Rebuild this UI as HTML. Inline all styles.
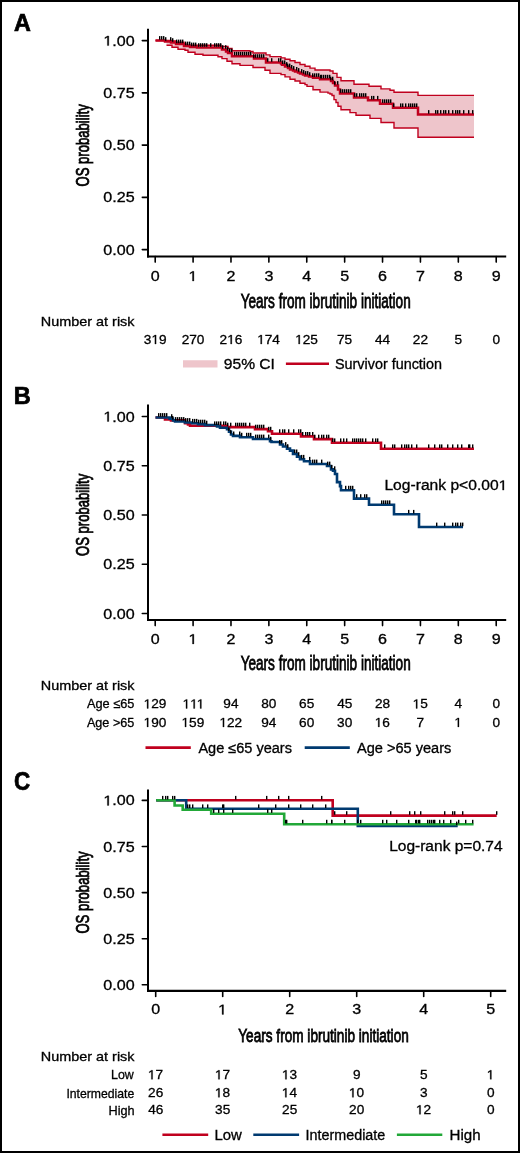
<!DOCTYPE html>
<html><head><meta charset="utf-8"><style>
html,body{margin:0;padding:0;background:#fff;}
svg{display:block;will-change:transform;}
text{font-family:"Liberation Sans",sans-serif;stroke:#000;stroke-width:0.3px;}
</style></head><body>
<svg width="520" height="1153" viewBox="0 0 520 1153">
<rect x="0" y="0" width="520" height="1153" fill="#fff"/>
<text x="13.92" y="30.55" font-size="23.26" font-weight="bold" fill="#000" textLength="16.87" lengthAdjust="spacingAndGlyphs" style="stroke-width:0.7px">A</text>
<line x1="148" y1="28.7" x2="148" y2="257.5" stroke="#000" stroke-width="2" stroke-linecap="butt"/>
<line x1="147" y1="256.5" x2="506.2" y2="256.5" stroke="#000" stroke-width="2.2" stroke-linecap="butt"/>
<line x1="142.3" y1="40.6" x2="148" y2="40.6" stroke="#000" stroke-width="1.6" stroke-linecap="round"/>
<line x1="142.3" y1="92.85" x2="148" y2="92.85" stroke="#000" stroke-width="1.6" stroke-linecap="round"/>
<line x1="142.3" y1="145.1" x2="148" y2="145.1" stroke="#000" stroke-width="1.6" stroke-linecap="round"/>
<line x1="142.3" y1="197.35" x2="148" y2="197.35" stroke="#000" stroke-width="1.6" stroke-linecap="round"/>
<line x1="142.3" y1="249.6" x2="148" y2="249.6" stroke="#000" stroke-width="1.6" stroke-linecap="round"/>
<line x1="155.2" y1="256.5" x2="155.2" y2="262.1" stroke="#000" stroke-width="1.6" stroke-linecap="round"/>
<line x1="193.08999999999997" y1="256.5" x2="193.08999999999997" y2="262.1" stroke="#000" stroke-width="1.6" stroke-linecap="round"/>
<line x1="230.98" y1="256.5" x2="230.98" y2="262.1" stroke="#000" stroke-width="1.6" stroke-linecap="round"/>
<line x1="268.87" y1="256.5" x2="268.87" y2="262.1" stroke="#000" stroke-width="1.6" stroke-linecap="round"/>
<line x1="306.76" y1="256.5" x2="306.76" y2="262.1" stroke="#000" stroke-width="1.6" stroke-linecap="round"/>
<line x1="344.65" y1="256.5" x2="344.65" y2="262.1" stroke="#000" stroke-width="1.6" stroke-linecap="round"/>
<line x1="382.53999999999996" y1="256.5" x2="382.53999999999996" y2="262.1" stroke="#000" stroke-width="1.6" stroke-linecap="round"/>
<line x1="420.43" y1="256.5" x2="420.43" y2="262.1" stroke="#000" stroke-width="1.6" stroke-linecap="round"/>
<line x1="458.32" y1="256.5" x2="458.32" y2="262.1" stroke="#000" stroke-width="1.6" stroke-linecap="round"/>
<line x1="496.21" y1="256.5" x2="496.21" y2="262.1" stroke="#000" stroke-width="1.6" stroke-linecap="round"/>
<path d="M515 0V1237L197 1010V1180L530 1409H696V0Z" transform="translate(103.33,45.60) scale(0.00786,-0.00684)" fill="#000" stroke="#000" stroke-width="0.3" vector-effect="non-scaling-stroke"/>
<text x="103.33" y="45.60" font-size="14.00" font-weight="normal" fill="#000" textLength="31.34" lengthAdjust="spacingAndGlyphs" > .00</text>
<text x="103.33" y="97.85" font-size="14.00" font-weight="normal" fill="#000" textLength="31.34" lengthAdjust="spacingAndGlyphs" >0.75</text>
<text x="103.33" y="150.10" font-size="14.00" font-weight="normal" fill="#000" textLength="31.34" lengthAdjust="spacingAndGlyphs" >0.50</text>
<text x="103.33" y="202.35" font-size="14.00" font-weight="normal" fill="#000" textLength="31.34" lengthAdjust="spacingAndGlyphs" >0.25</text>
<text x="103.33" y="254.60" font-size="14.00" font-weight="normal" fill="#000" textLength="31.34" lengthAdjust="spacingAndGlyphs" >0.00</text>
<text x="150.73" y="281.00" font-size="14.00" font-weight="normal" fill="#000" textLength="8.95" lengthAdjust="spacingAndGlyphs" >0</text>
<path d="M515 0V1237L197 1010V1180L530 1409H696V0Z" transform="translate(188.42,281.00) scale(0.00786,-0.00684)" fill="#000" stroke="#000" stroke-width="0.3" vector-effect="non-scaling-stroke"/>
<text x="188.42" y="281.00" font-size="14.00" font-weight="normal" fill="#000" textLength="8.95" lengthAdjust="spacingAndGlyphs" > </text>
<text x="226.51" y="281.00" font-size="14.00" font-weight="normal" fill="#000" textLength="8.95" lengthAdjust="spacingAndGlyphs" >2</text>
<text x="264.44" y="281.00" font-size="14.00" font-weight="normal" fill="#000" textLength="8.95" lengthAdjust="spacingAndGlyphs" >3</text>
<text x="302.33" y="281.00" font-size="14.00" font-weight="normal" fill="#000" textLength="8.95" lengthAdjust="spacingAndGlyphs" >4</text>
<text x="340.18" y="281.00" font-size="14.00" font-weight="normal" fill="#000" textLength="8.95" lengthAdjust="spacingAndGlyphs" >5</text>
<text x="378.03" y="281.00" font-size="14.00" font-weight="normal" fill="#000" textLength="8.95" lengthAdjust="spacingAndGlyphs" >6</text>
<text x="415.96" y="281.00" font-size="14.00" font-weight="normal" fill="#000" textLength="8.95" lengthAdjust="spacingAndGlyphs" >7</text>
<text x="453.81" y="281.00" font-size="14.00" font-weight="normal" fill="#000" textLength="8.95" lengthAdjust="spacingAndGlyphs" >8</text>
<text x="491.74" y="281.00" font-size="14.00" font-weight="normal" fill="#000" textLength="8.95" lengthAdjust="spacingAndGlyphs" >9</text>
<text x="240.66" y="308.30" font-size="19.45" font-weight="normal" fill="#000" textLength="170.03" lengthAdjust="spacingAndGlyphs" style="stroke-width:0.8px">Years from ibrutinib initiation</text>
<text x="-0.59" y="0.00" font-size="19.17" font-weight="normal" fill="#000" textLength="82.27" lengthAdjust="spacingAndGlyphs" style="stroke-width:0.8px" transform="translate(89,185.9) rotate(-90)">OS probability</text>
<text x="40.85" y="325.75" font-size="13.10" font-weight="normal" fill="#000" textLength="93.68" lengthAdjust="spacingAndGlyphs" >Number at risk</text>
<path d="M515 0V1237L197 1010V1180L530 1409H696V0Z" transform="translate(151.46,344.00) scale(0.00667,-0.00635)" fill="#000" stroke="#000" stroke-width="0.3" vector-effect="non-scaling-stroke"/>
<text x="143.87" y="344.00" font-size="13.00" font-weight="normal" fill="#000" textLength="22.78" lengthAdjust="spacingAndGlyphs" >3 9</text>
<text x="181.66" y="344.00" font-size="13.00" font-weight="normal" fill="#000" textLength="22.78" lengthAdjust="spacingAndGlyphs" >270</text>
<path d="M515 0V1237L197 1010V1180L530 1409H696V0Z" transform="translate(227.17,344.00) scale(0.00667,-0.00635)" fill="#000" stroke="#000" stroke-width="0.3" vector-effect="non-scaling-stroke"/>
<text x="219.58" y="344.00" font-size="13.00" font-weight="normal" fill="#000" textLength="22.78" lengthAdjust="spacingAndGlyphs" >2 6</text>
<path d="M515 0V1237L197 1010V1180L530 1409H696V0Z" transform="translate(257.20,344.00) scale(0.00667,-0.00635)" fill="#000" stroke="#000" stroke-width="0.3" vector-effect="non-scaling-stroke"/>
<text x="257.20" y="344.00" font-size="13.00" font-weight="normal" fill="#000" textLength="22.78" lengthAdjust="spacingAndGlyphs" > 74</text>
<path d="M515 0V1237L197 1010V1180L530 1409H696V0Z" transform="translate(295.16,344.00) scale(0.00667,-0.00635)" fill="#000" stroke="#000" stroke-width="0.3" vector-effect="non-scaling-stroke"/>
<text x="295.16" y="344.00" font-size="13.00" font-weight="normal" fill="#000" textLength="22.78" lengthAdjust="spacingAndGlyphs" > 25</text>
<text x="337.01" y="344.00" font-size="13.00" font-weight="normal" fill="#000" textLength="15.18" lengthAdjust="spacingAndGlyphs" >75</text>
<text x="375.00" y="344.00" font-size="13.00" font-weight="normal" fill="#000" textLength="15.18" lengthAdjust="spacingAndGlyphs" >44</text>
<text x="412.85" y="344.00" font-size="13.00" font-weight="normal" fill="#000" textLength="15.18" lengthAdjust="spacingAndGlyphs" >22</text>
<text x="454.53" y="344.00" font-size="13.00" font-weight="normal" fill="#000" textLength="7.59" lengthAdjust="spacingAndGlyphs" >5</text>
<text x="492.42" y="344.00" font-size="13.00" font-weight="normal" fill="#000" textLength="7.59" lengthAdjust="spacingAndGlyphs" >0</text>
<rect x="183" y="360.25" width="34.5" height="7.25" fill="#eec5cb"/>
<text x="223.80" y="368.50" font-size="14.00" font-weight="normal" fill="#000" textLength="51.17" lengthAdjust="spacingAndGlyphs" >95% CI</text>
<line x1="285.9" y1="363.7" x2="329" y2="363.7" stroke="#c0001e" stroke-width="2.6" stroke-linecap="butt"/>
<text x="334.95" y="368.50" font-size="14.00" font-weight="normal" fill="#000" textLength="107.12" lengthAdjust="spacingAndGlyphs" >Survivor function</text>
<text x="13.72" y="404.25" font-size="23.48" font-weight="bold" fill="#000" textLength="17.05" lengthAdjust="spacingAndGlyphs" style="stroke-width:0.7px">B</text>
<line x1="148" y1="404.6" x2="148" y2="621" stroke="#000" stroke-width="2" stroke-linecap="butt"/>
<line x1="147" y1="620" x2="506.2" y2="620" stroke="#000" stroke-width="2.2" stroke-linecap="butt"/>
<line x1="142.3" y1="416.5" x2="148" y2="416.5" stroke="#000" stroke-width="1.6" stroke-linecap="round"/>
<line x1="142.3" y1="465.75" x2="148" y2="465.75" stroke="#000" stroke-width="1.6" stroke-linecap="round"/>
<line x1="142.3" y1="515.0" x2="148" y2="515.0" stroke="#000" stroke-width="1.6" stroke-linecap="round"/>
<line x1="142.3" y1="564.25" x2="148" y2="564.25" stroke="#000" stroke-width="1.6" stroke-linecap="round"/>
<line x1="142.3" y1="613.5" x2="148" y2="613.5" stroke="#000" stroke-width="1.6" stroke-linecap="round"/>
<line x1="155.2" y1="620" x2="155.2" y2="625.6" stroke="#000" stroke-width="1.6" stroke-linecap="round"/>
<line x1="193.08999999999997" y1="620" x2="193.08999999999997" y2="625.6" stroke="#000" stroke-width="1.6" stroke-linecap="round"/>
<line x1="230.98" y1="620" x2="230.98" y2="625.6" stroke="#000" stroke-width="1.6" stroke-linecap="round"/>
<line x1="268.87" y1="620" x2="268.87" y2="625.6" stroke="#000" stroke-width="1.6" stroke-linecap="round"/>
<line x1="306.76" y1="620" x2="306.76" y2="625.6" stroke="#000" stroke-width="1.6" stroke-linecap="round"/>
<line x1="344.65" y1="620" x2="344.65" y2="625.6" stroke="#000" stroke-width="1.6" stroke-linecap="round"/>
<line x1="382.53999999999996" y1="620" x2="382.53999999999996" y2="625.6" stroke="#000" stroke-width="1.6" stroke-linecap="round"/>
<line x1="420.43" y1="620" x2="420.43" y2="625.6" stroke="#000" stroke-width="1.6" stroke-linecap="round"/>
<line x1="458.32" y1="620" x2="458.32" y2="625.6" stroke="#000" stroke-width="1.6" stroke-linecap="round"/>
<line x1="496.21" y1="620" x2="496.21" y2="625.6" stroke="#000" stroke-width="1.6" stroke-linecap="round"/>
<path d="M515 0V1237L197 1010V1180L530 1409H696V0Z" transform="translate(103.33,421.50) scale(0.00786,-0.00684)" fill="#000" stroke="#000" stroke-width="0.3" vector-effect="non-scaling-stroke"/>
<text x="103.33" y="421.50" font-size="14.00" font-weight="normal" fill="#000" textLength="31.34" lengthAdjust="spacingAndGlyphs" > .00</text>
<text x="103.33" y="470.75" font-size="14.00" font-weight="normal" fill="#000" textLength="31.34" lengthAdjust="spacingAndGlyphs" >0.75</text>
<text x="103.33" y="520.00" font-size="14.00" font-weight="normal" fill="#000" textLength="31.34" lengthAdjust="spacingAndGlyphs" >0.50</text>
<text x="103.33" y="569.25" font-size="14.00" font-weight="normal" fill="#000" textLength="31.34" lengthAdjust="spacingAndGlyphs" >0.25</text>
<text x="103.33" y="618.50" font-size="14.00" font-weight="normal" fill="#000" textLength="31.34" lengthAdjust="spacingAndGlyphs" >0.00</text>
<text x="150.73" y="643.90" font-size="14.00" font-weight="normal" fill="#000" textLength="8.95" lengthAdjust="spacingAndGlyphs" >0</text>
<path d="M515 0V1237L197 1010V1180L530 1409H696V0Z" transform="translate(188.42,643.90) scale(0.00786,-0.00684)" fill="#000" stroke="#000" stroke-width="0.3" vector-effect="non-scaling-stroke"/>
<text x="188.42" y="643.90" font-size="14.00" font-weight="normal" fill="#000" textLength="8.95" lengthAdjust="spacingAndGlyphs" > </text>
<text x="226.51" y="643.90" font-size="14.00" font-weight="normal" fill="#000" textLength="8.95" lengthAdjust="spacingAndGlyphs" >2</text>
<text x="264.44" y="643.90" font-size="14.00" font-weight="normal" fill="#000" textLength="8.95" lengthAdjust="spacingAndGlyphs" >3</text>
<text x="302.33" y="643.90" font-size="14.00" font-weight="normal" fill="#000" textLength="8.95" lengthAdjust="spacingAndGlyphs" >4</text>
<text x="340.18" y="643.90" font-size="14.00" font-weight="normal" fill="#000" textLength="8.95" lengthAdjust="spacingAndGlyphs" >5</text>
<text x="378.03" y="643.90" font-size="14.00" font-weight="normal" fill="#000" textLength="8.95" lengthAdjust="spacingAndGlyphs" >6</text>
<text x="415.96" y="643.90" font-size="14.00" font-weight="normal" fill="#000" textLength="8.95" lengthAdjust="spacingAndGlyphs" >7</text>
<text x="453.81" y="643.90" font-size="14.00" font-weight="normal" fill="#000" textLength="8.95" lengthAdjust="spacingAndGlyphs" >8</text>
<text x="491.74" y="643.90" font-size="14.00" font-weight="normal" fill="#000" textLength="8.95" lengthAdjust="spacingAndGlyphs" >9</text>
<text x="240.66" y="670.30" font-size="19.45" font-weight="normal" fill="#000" textLength="170.03" lengthAdjust="spacingAndGlyphs" style="stroke-width:0.8px">Years from ibrutinib initiation</text>
<text x="-0.59" y="0.00" font-size="19.17" font-weight="normal" fill="#000" textLength="82.27" lengthAdjust="spacingAndGlyphs" style="stroke-width:0.8px" transform="translate(89,555.4) rotate(-90)">OS probability</text>
<text x="40.85" y="689.50" font-size="13.10" font-weight="normal" fill="#000" textLength="93.68" lengthAdjust="spacingAndGlyphs" >Number at risk</text>
<text x="86.94" y="708.30" font-size="13.00" font-weight="normal" fill="#000" textLength="47.37" lengthAdjust="spacingAndGlyphs" >Age ≤65</text>
<text x="86.94" y="726.90" font-size="13.00" font-weight="normal" fill="#000" textLength="47.36" lengthAdjust="spacingAndGlyphs" >Age &gt;65</text>
<path d="M515 0V1237L197 1010V1180L530 1409H696V0Z" transform="translate(143.63,708.40) scale(0.00667,-0.00635)" fill="#000" stroke="#000" stroke-width="0.3" vector-effect="non-scaling-stroke"/>
<text x="143.63" y="708.40" font-size="13.00" font-weight="normal" fill="#000" textLength="22.78" lengthAdjust="spacingAndGlyphs" > 29</text>
<path d="M515 0V1237L197 1010V1180L530 1409H696V0Z" transform="translate(182.55,708.40) scale(0.00667,-0.00635)" fill="#000" stroke="#000" stroke-width="0.3" vector-effect="non-scaling-stroke"/>
<path d="M515 0V1237L197 1010V1180L530 1409H696V0Z" transform="translate(190.14,708.40) scale(0.00667,-0.00635)" fill="#000" stroke="#000" stroke-width="0.3" vector-effect="non-scaling-stroke"/>
<path d="M515 0V1237L197 1010V1180L530 1409H696V0Z" transform="translate(196.72,708.40) scale(0.00667,-0.00635)" fill="#000" stroke="#000" stroke-width="0.3" vector-effect="non-scaling-stroke"/>
<text x="182.55" y="708.40" font-size="13.00" font-weight="normal" fill="#000" textLength="20.75" lengthAdjust="spacingAndGlyphs" >   </text>
<text x="223.30" y="708.40" font-size="13.00" font-weight="normal" fill="#000" textLength="15.18" lengthAdjust="spacingAndGlyphs" >94</text>
<text x="261.26" y="708.40" font-size="13.00" font-weight="normal" fill="#000" textLength="15.18" lengthAdjust="spacingAndGlyphs" >80</text>
<text x="299.12" y="708.40" font-size="13.00" font-weight="normal" fill="#000" textLength="15.18" lengthAdjust="spacingAndGlyphs" >65</text>
<text x="337.18" y="708.40" font-size="13.00" font-weight="normal" fill="#000" textLength="15.18" lengthAdjust="spacingAndGlyphs" >45</text>
<text x="374.90" y="708.40" font-size="13.00" font-weight="normal" fill="#000" textLength="15.18" lengthAdjust="spacingAndGlyphs" >28</text>
<path d="M515 0V1237L197 1010V1180L530 1409H696V0Z" transform="translate(412.62,708.40) scale(0.00667,-0.00635)" fill="#000" stroke="#000" stroke-width="0.3" vector-effect="non-scaling-stroke"/>
<text x="412.62" y="708.40" font-size="13.00" font-weight="normal" fill="#000" textLength="15.18" lengthAdjust="spacingAndGlyphs" > 5</text>
<text x="454.57" y="708.40" font-size="13.00" font-weight="normal" fill="#000" textLength="7.59" lengthAdjust="spacingAndGlyphs" >4</text>
<text x="492.42" y="708.40" font-size="13.00" font-weight="normal" fill="#000" textLength="7.59" lengthAdjust="spacingAndGlyphs" >0</text>
<path d="M515 0V1237L197 1010V1180L530 1409H696V0Z" transform="translate(143.60,726.90) scale(0.00667,-0.00635)" fill="#000" stroke="#000" stroke-width="0.3" vector-effect="non-scaling-stroke"/>
<text x="143.60" y="726.90" font-size="13.00" font-weight="normal" fill="#000" textLength="22.78" lengthAdjust="spacingAndGlyphs" > 90</text>
<path d="M515 0V1237L197 1010V1180L530 1409H696V0Z" transform="translate(181.52,726.90) scale(0.00667,-0.00635)" fill="#000" stroke="#000" stroke-width="0.3" vector-effect="non-scaling-stroke"/>
<text x="181.52" y="726.90" font-size="13.00" font-weight="normal" fill="#000" textLength="22.78" lengthAdjust="spacingAndGlyphs" > 59</text>
<path d="M515 0V1237L197 1010V1180L530 1409H696V0Z" transform="translate(219.45,726.90) scale(0.00667,-0.00635)" fill="#000" stroke="#000" stroke-width="0.3" vector-effect="non-scaling-stroke"/>
<text x="219.45" y="726.90" font-size="13.00" font-weight="normal" fill="#000" textLength="22.78" lengthAdjust="spacingAndGlyphs" > 22</text>
<text x="261.19" y="726.90" font-size="13.00" font-weight="normal" fill="#000" textLength="15.18" lengthAdjust="spacingAndGlyphs" >94</text>
<text x="299.12" y="726.90" font-size="13.00" font-weight="normal" fill="#000" textLength="15.18" lengthAdjust="spacingAndGlyphs" >60</text>
<text x="337.07" y="726.90" font-size="13.00" font-weight="normal" fill="#000" textLength="15.18" lengthAdjust="spacingAndGlyphs" >30</text>
<path d="M515 0V1237L197 1010V1180L530 1409H696V0Z" transform="translate(374.76,726.90) scale(0.00667,-0.00635)" fill="#000" stroke="#000" stroke-width="0.3" vector-effect="non-scaling-stroke"/>
<text x="374.76" y="726.90" font-size="13.00" font-weight="normal" fill="#000" textLength="15.18" lengthAdjust="spacingAndGlyphs" > 6</text>
<text x="416.64" y="726.90" font-size="13.00" font-weight="normal" fill="#000" textLength="7.59" lengthAdjust="spacingAndGlyphs" >7</text>
<path d="M515 0V1237L197 1010V1180L530 1409H696V0Z" transform="translate(454.36,726.90) scale(0.00667,-0.00635)" fill="#000" stroke="#000" stroke-width="0.3" vector-effect="non-scaling-stroke"/>
<text x="454.36" y="726.90" font-size="13.00" font-weight="normal" fill="#000" textLength="7.59" lengthAdjust="spacingAndGlyphs" > </text>
<text x="492.42" y="726.90" font-size="13.00" font-weight="normal" fill="#000" textLength="7.59" lengthAdjust="spacingAndGlyphs" >0</text>
<line x1="145.5" y1="747.6" x2="190.8" y2="747.6" stroke="#c0001e" stroke-width="2.6" stroke-linecap="butt"/>
<text x="198.43" y="752.80" font-size="14.00" font-weight="normal" fill="#000" textLength="93.50" lengthAdjust="spacingAndGlyphs" >Age ≤65 years</text>
<line x1="304.7" y1="747.6" x2="349.8" y2="747.6" stroke="#003a70" stroke-width="2.6" stroke-linecap="butt"/>
<text x="356.93" y="752.80" font-size="14.00" font-weight="normal" fill="#000" textLength="94.41" lengthAdjust="spacingAndGlyphs" >Age &gt;65 years</text>
<path d="M515 0V1237L197 1010V1180L530 1409H696V0Z" transform="translate(498.63,490.10) scale(0.00763,-0.00684)" fill="#000" stroke="#000" stroke-width="0.3" vector-effect="non-scaling-stroke"/>
<text x="384.45" y="490.10" font-size="14.00" font-weight="normal" fill="#000" textLength="122.87" lengthAdjust="spacingAndGlyphs" >Log-rank p&lt;0.00 </text>
<text x="14.05" y="790.05" font-size="25.43" font-weight="bold" fill="#000" textLength="16.21" lengthAdjust="spacingAndGlyphs" style="stroke-width:0.7px">C</text>
<line x1="148" y1="789.4" x2="148" y2="991.8" stroke="#000" stroke-width="2" stroke-linecap="butt"/>
<line x1="147" y1="990.8" x2="506.2" y2="990.8" stroke="#000" stroke-width="2.2" stroke-linecap="butt"/>
<line x1="142.3" y1="800.4" x2="148" y2="800.4" stroke="#000" stroke-width="1.6" stroke-linecap="round"/>
<line x1="142.3" y1="846.5" x2="148" y2="846.5" stroke="#000" stroke-width="1.6" stroke-linecap="round"/>
<line x1="142.3" y1="892.6" x2="148" y2="892.6" stroke="#000" stroke-width="1.6" stroke-linecap="round"/>
<line x1="142.3" y1="938.7" x2="148" y2="938.7" stroke="#000" stroke-width="1.6" stroke-linecap="round"/>
<line x1="142.3" y1="984.8" x2="148" y2="984.8" stroke="#000" stroke-width="1.6" stroke-linecap="round"/>
<line x1="155.7" y1="990.8" x2="155.7" y2="996.4" stroke="#000" stroke-width="1.6" stroke-linecap="round"/>
<line x1="222.7" y1="990.8" x2="222.7" y2="996.4" stroke="#000" stroke-width="1.6" stroke-linecap="round"/>
<line x1="289.7" y1="990.8" x2="289.7" y2="996.4" stroke="#000" stroke-width="1.6" stroke-linecap="round"/>
<line x1="356.7" y1="990.8" x2="356.7" y2="996.4" stroke="#000" stroke-width="1.6" stroke-linecap="round"/>
<line x1="423.7" y1="990.8" x2="423.7" y2="996.4" stroke="#000" stroke-width="1.6" stroke-linecap="round"/>
<line x1="490.7" y1="990.8" x2="490.7" y2="996.4" stroke="#000" stroke-width="1.6" stroke-linecap="round"/>
<path d="M515 0V1237L197 1010V1180L530 1409H696V0Z" transform="translate(103.33,805.40) scale(0.00786,-0.00684)" fill="#000" stroke="#000" stroke-width="0.3" vector-effect="non-scaling-stroke"/>
<text x="103.33" y="805.40" font-size="14.00" font-weight="normal" fill="#000" textLength="31.34" lengthAdjust="spacingAndGlyphs" > .00</text>
<text x="103.33" y="851.50" font-size="14.00" font-weight="normal" fill="#000" textLength="31.34" lengthAdjust="spacingAndGlyphs" >0.75</text>
<text x="103.33" y="897.60" font-size="14.00" font-weight="normal" fill="#000" textLength="31.34" lengthAdjust="spacingAndGlyphs" >0.50</text>
<text x="103.33" y="943.70" font-size="14.00" font-weight="normal" fill="#000" textLength="31.34" lengthAdjust="spacingAndGlyphs" >0.25</text>
<text x="103.33" y="989.80" font-size="14.00" font-weight="normal" fill="#000" textLength="31.34" lengthAdjust="spacingAndGlyphs" >0.00</text>
<text x="151.23" y="1014.40" font-size="14.00" font-weight="normal" fill="#000" textLength="8.95" lengthAdjust="spacingAndGlyphs" >0</text>
<path d="M515 0V1237L197 1010V1180L530 1409H696V0Z" transform="translate(218.03,1014.40) scale(0.00786,-0.00684)" fill="#000" stroke="#000" stroke-width="0.3" vector-effect="non-scaling-stroke"/>
<text x="218.03" y="1014.40" font-size="14.00" font-weight="normal" fill="#000" textLength="8.95" lengthAdjust="spacingAndGlyphs" > </text>
<text x="285.23" y="1014.40" font-size="14.00" font-weight="normal" fill="#000" textLength="8.95" lengthAdjust="spacingAndGlyphs" >2</text>
<text x="352.27" y="1014.40" font-size="14.00" font-weight="normal" fill="#000" textLength="8.95" lengthAdjust="spacingAndGlyphs" >3</text>
<text x="419.27" y="1014.40" font-size="14.00" font-weight="normal" fill="#000" textLength="8.95" lengthAdjust="spacingAndGlyphs" >4</text>
<text x="486.23" y="1014.40" font-size="14.00" font-weight="normal" fill="#000" textLength="8.95" lengthAdjust="spacingAndGlyphs" >5</text>
<text x="238.26" y="1041.70" font-size="18.62" font-weight="normal" fill="#000" textLength="170.53" lengthAdjust="spacingAndGlyphs" style="stroke-width:0.8px">Years from ibrutinib initiation</text>
<text x="-0.59" y="0.00" font-size="19.17" font-weight="normal" fill="#000" textLength="82.17" lengthAdjust="spacingAndGlyphs" style="stroke-width:0.8px" transform="translate(89,933) rotate(-90)">OS probability</text>
<text x="40.85" y="1060.50" font-size="12.76" font-weight="normal" fill="#000" textLength="93.68" lengthAdjust="spacingAndGlyphs" >Number at risk</text>
<text x="111.01" y="1079.30" font-size="13.00" font-weight="normal" fill="#000" textLength="22.74" lengthAdjust="spacingAndGlyphs" >Low</text>
<text x="66.40" y="1097.50" font-size="13.00" font-weight="normal" fill="#000" textLength="67.88" lengthAdjust="spacingAndGlyphs" >Intermediate</text>
<text x="108.48" y="1114.60" font-size="13.00" font-weight="normal" fill="#000" textLength="26.11" lengthAdjust="spacingAndGlyphs" >High</text>
<path d="M515 0V1237L197 1010V1180L530 1409H696V0Z" transform="translate(147.95,1079.30) scale(0.00667,-0.00635)" fill="#000" stroke="#000" stroke-width="0.3" vector-effect="non-scaling-stroke"/>
<text x="147.95" y="1079.30" font-size="13.00" font-weight="normal" fill="#000" textLength="15.18" lengthAdjust="spacingAndGlyphs" > 7</text>
<path d="M515 0V1237L197 1010V1180L530 1409H696V0Z" transform="translate(214.95,1079.30) scale(0.00667,-0.00635)" fill="#000" stroke="#000" stroke-width="0.3" vector-effect="non-scaling-stroke"/>
<text x="214.95" y="1079.30" font-size="13.00" font-weight="normal" fill="#000" textLength="15.18" lengthAdjust="spacingAndGlyphs" > 7</text>
<path d="M515 0V1237L197 1010V1180L530 1409H696V0Z" transform="translate(281.92,1079.30) scale(0.00667,-0.00635)" fill="#000" stroke="#000" stroke-width="0.3" vector-effect="non-scaling-stroke"/>
<text x="281.92" y="1079.30" font-size="13.00" font-weight="normal" fill="#000" textLength="15.18" lengthAdjust="spacingAndGlyphs" > 3</text>
<text x="352.91" y="1079.30" font-size="13.00" font-weight="normal" fill="#000" textLength="7.59" lengthAdjust="spacingAndGlyphs" >9</text>
<text x="419.91" y="1079.30" font-size="13.00" font-weight="normal" fill="#000" textLength="7.59" lengthAdjust="spacingAndGlyphs" >5</text>
<path d="M515 0V1237L197 1010V1180L530 1409H696V0Z" transform="translate(486.74,1079.30) scale(0.00667,-0.00635)" fill="#000" stroke="#000" stroke-width="0.3" vector-effect="non-scaling-stroke"/>
<text x="486.74" y="1079.30" font-size="13.00" font-weight="normal" fill="#000" textLength="7.59" lengthAdjust="spacingAndGlyphs" > </text>
<text x="148.09" y="1097.30" font-size="13.00" font-weight="normal" fill="#000" textLength="15.18" lengthAdjust="spacingAndGlyphs" >26</text>
<path d="M515 0V1237L197 1010V1180L530 1409H696V0Z" transform="translate(214.89,1097.30) scale(0.00667,-0.00635)" fill="#000" stroke="#000" stroke-width="0.3" vector-effect="non-scaling-stroke"/>
<text x="214.89" y="1097.30" font-size="13.00" font-weight="normal" fill="#000" textLength="15.18" lengthAdjust="spacingAndGlyphs" > 8</text>
<path d="M515 0V1237L197 1010V1180L530 1409H696V0Z" transform="translate(281.82,1097.30) scale(0.00667,-0.00635)" fill="#000" stroke="#000" stroke-width="0.3" vector-effect="non-scaling-stroke"/>
<text x="281.82" y="1097.30" font-size="13.00" font-weight="normal" fill="#000" textLength="15.18" lengthAdjust="spacingAndGlyphs" > 4</text>
<path d="M515 0V1237L197 1010V1180L530 1409H696V0Z" transform="translate(348.89,1097.30) scale(0.00667,-0.00635)" fill="#000" stroke="#000" stroke-width="0.3" vector-effect="non-scaling-stroke"/>
<text x="348.89" y="1097.30" font-size="13.00" font-weight="normal" fill="#000" textLength="15.18" lengthAdjust="spacingAndGlyphs" > 0</text>
<text x="419.95" y="1097.30" font-size="13.00" font-weight="normal" fill="#000" textLength="7.59" lengthAdjust="spacingAndGlyphs" >3</text>
<text x="486.91" y="1097.30" font-size="13.00" font-weight="normal" fill="#000" textLength="7.59" lengthAdjust="spacingAndGlyphs" >0</text>
<text x="148.26" y="1114.30" font-size="13.00" font-weight="normal" fill="#000" textLength="15.18" lengthAdjust="spacingAndGlyphs" >46</text>
<text x="215.12" y="1114.30" font-size="13.00" font-weight="normal" fill="#000" textLength="15.18" lengthAdjust="spacingAndGlyphs" >35</text>
<text x="282.06" y="1114.30" font-size="13.00" font-weight="normal" fill="#000" textLength="15.18" lengthAdjust="spacingAndGlyphs" >25</text>
<text x="349.06" y="1114.30" font-size="13.00" font-weight="normal" fill="#000" textLength="15.18" lengthAdjust="spacingAndGlyphs" >20</text>
<path d="M515 0V1237L197 1010V1180L530 1409H696V0Z" transform="translate(415.95,1114.30) scale(0.00667,-0.00635)" fill="#000" stroke="#000" stroke-width="0.3" vector-effect="non-scaling-stroke"/>
<text x="415.95" y="1114.30" font-size="13.00" font-weight="normal" fill="#000" textLength="15.18" lengthAdjust="spacingAndGlyphs" > 2</text>
<text x="486.91" y="1114.30" font-size="13.00" font-weight="normal" fill="#000" textLength="7.59" lengthAdjust="spacingAndGlyphs" >0</text>
<line x1="162.4" y1="1134.8" x2="208.2" y2="1134.8" stroke="#c0001e" stroke-width="2.6" stroke-linecap="butt"/>
<text x="214.41" y="1139.50" font-size="14.00" font-weight="normal" fill="#000" textLength="27.39" lengthAdjust="spacingAndGlyphs" >Low</text>
<line x1="253.3" y1="1134.8" x2="299.1" y2="1134.8" stroke="#003a70" stroke-width="2.6" stroke-linecap="butt"/>
<text x="305.61" y="1139.50" font-size="14.00" font-weight="normal" fill="#000" textLength="79.62" lengthAdjust="spacingAndGlyphs" >Intermediate</text>
<line x1="396.9" y1="1134.8" x2="442.3" y2="1134.8" stroke="#22a838" stroke-width="2.6" stroke-linecap="butt"/>
<text x="449.59" y="1139.50" font-size="14.00" font-weight="normal" fill="#000" textLength="31.01" lengthAdjust="spacingAndGlyphs" >High</text>
<text x="389.16" y="850.60" font-size="14.00" font-weight="normal" fill="#000" textLength="113.43" lengthAdjust="spacingAndGlyphs" >Log-rank p=0.74</text>
<path d="M166.50,40.50 H171.00 V41.00 H176.00 V42.20 H184.00 V44.00 H186.00 V45.30 H221.00 V46.50 H228.00 V48.50 H232.00 V50.80 H250.00 V51.50 H253.00 V53.00 H266.00 V54.90 H270.00 V56.60 H281.00 V57.90 H285.00 V59.30 H290.00 V60.80 H295.00 V62.50 H300.00 V64.50 H305.00 V66.20 H310.00 V68.10 H315.00 V70.00 H330.00 V71.00 H333.00 V73.40 H337.00 V77.40 H341.00 V80.80 H354.00 V84.20 H369.00 V86.20 H381.00 V88.90 H390.00 V90.20 H394.00 V92.30 H418.00 V95.40 H474.00 V137.30 H418.00 V128.00 H394.00 V122.50 H381.00 V118.40 H370.00 V115.20 H356.00 V112.60 H350.00 V109.70 H341.00 V106.30 H338.00 V102.50 H336.00 V99.60 H334.00 V95.50 H332.00 V94.00 H330.00 V93.10 H328.00 V92.10 H320.00 V89.70 H313.00 V86.40 H307.00 V84.60 H305.00 V83.30 H300.00 V81.00 H295.00 V79.20 H290.00 V76.90 H285.00 V74.60 H281.00 V73.40 H270.00 V70.30 H265.00 V67.50 H253.00 V65.40 H240.00 V63.80 H232.00 V61.20 H227.00 V58.60 H222.00 V56.80 H218.00 V55.30 H203.00 V54.20 H195.00 V52.20 H188.00 V50.30 H185.00 V49.20 H178.00 V47.20 H172.00 V45.30 H166.50 Z" fill="#eec5cb" stroke="none"/>
<path d="M155.50,40.50 H171.00 V41.00 H176.00 V42.20 H184.00 V44.00 H186.00 V45.30 H221.00 V46.50 H228.00 V48.50 H232.00 V50.80 H250.00 V51.50 H253.00 V53.00 H266.00 V54.90 H270.00 V56.60 H281.00 V57.90 H285.00 V59.30 H290.00 V60.80 H295.00 V62.50 H300.00 V64.50 H305.00 V66.20 H310.00 V68.10 H315.00 V70.00 H330.00 V71.00 H333.00 V73.40 H337.00 V77.40 H341.00 V80.80 H354.00 V84.20 H369.00 V86.20 H381.00 V88.90 H390.00 V90.20 H394.00 V92.30 H418.00 V95.40 H474.00" fill="none" stroke="#c0001e" stroke-width="1.4"/>
<path d="M166.50,45.30 H172.00 V47.20 H178.00 V49.20 H185.00 V50.30 H188.00 V52.20 H195.00 V54.20 H203.00 V55.30 H218.00 V56.80 H222.00 V58.60 H227.00 V61.20 H232.00 V63.80 H240.00 V65.40 H253.00 V67.50 H265.00 V70.30 H270.00 V73.40 H281.00 V74.60 H285.00 V76.90 H290.00 V79.20 H295.00 V81.00 H300.00 V83.30 H305.00 V84.60 H307.00 V86.40 H313.00 V89.70 H320.00 V92.10 H328.00 V93.10 H330.00 V94.00 H332.00 V95.50 H334.00 V99.60 H336.00 V102.50 H338.00 V106.30 H341.00 V109.70 H350.00 V112.60 H356.00 V115.20 H370.00 V118.40 H381.00 V122.50 H394.00 V128.00 H418.00 V137.30 H474.00" fill="none" stroke="#c0001e" stroke-width="1.4"/>
<path d="M155.50,40.50 H165.00 V41.60 H171.00 V42.60 H176.00 V44.00 H184.00 V46.00 H190.00 V47.00 H197.00 V47.60 H222.00 V49.60 H226.00 V51.50 H228.00 V53.00 H232.00 V56.20 H254.00 V58.60 H266.00 V62.60 H281.00 V63.60 H282.00 V64.80 H285.00 V66.50 H288.00 V68.00 H290.00 V69.40 H293.00 V70.50 H295.00 V71.40 H298.00 V72.50 H300.00 V73.50 H303.00 V74.50 H305.00 V75.50 H309.00 V76.60 H313.00 V77.70 H320.00 V79.20 H331.00 V81.10 H333.00 V83.00 H335.00 V85.50 H338.00 V89.50 H340.00 V93.60 H354.00 V97.60 H368.00 V100.30 H380.00 V103.70 H393.00 V107.80 H418.00 V114.50 H474.00" fill="none" stroke="#c0001e" stroke-width="2.5"/>
<rect x="159.00" y="36.10" width="1.4" height="3.60" fill="#000"/>
<rect x="161.00" y="36.10" width="1.4" height="3.60" fill="#000"/>
<rect x="163.00" y="36.10" width="1.4" height="3.60" fill="#000"/>
<rect x="165.00" y="37.20" width="1.4" height="3.60" fill="#000"/>
<rect x="170.00" y="37.20" width="1.4" height="3.60" fill="#000"/>
<rect x="172.00" y="38.20" width="1.4" height="3.60" fill="#000"/>
<rect x="176.00" y="39.60" width="1.4" height="3.60" fill="#000"/>
<rect x="178.00" y="39.60" width="1.4" height="3.60" fill="#000"/>
<rect x="180.00" y="39.60" width="1.4" height="3.60" fill="#000"/>
<rect x="182.00" y="39.60" width="1.4" height="3.60" fill="#000"/>
<rect x="185.00" y="41.60" width="1.4" height="3.60" fill="#000"/>
<rect x="187.00" y="41.60" width="1.4" height="3.60" fill="#000"/>
<rect x="189.00" y="41.60" width="1.4" height="3.60" fill="#000"/>
<rect x="191.00" y="42.60" width="1.4" height="3.60" fill="#000"/>
<rect x="193.00" y="42.60" width="1.4" height="3.60" fill="#000"/>
<rect x="195.00" y="42.60" width="1.4" height="3.60" fill="#000"/>
<rect x="198.00" y="43.20" width="1.4" height="3.60" fill="#000"/>
<rect x="200.00" y="43.20" width="1.4" height="3.60" fill="#000"/>
<rect x="202.00" y="43.20" width="1.4" height="3.60" fill="#000"/>
<rect x="204.00" y="43.20" width="1.4" height="3.60" fill="#000"/>
<rect x="206.00" y="43.20" width="1.4" height="3.60" fill="#000"/>
<rect x="210.00" y="43.20" width="1.4" height="3.60" fill="#000"/>
<rect x="214.00" y="43.20" width="1.4" height="3.60" fill="#000"/>
<rect x="216.00" y="43.20" width="1.4" height="3.60" fill="#000"/>
<rect x="218.00" y="43.20" width="1.4" height="3.60" fill="#000"/>
<rect x="220.00" y="43.20" width="1.4" height="3.60" fill="#000"/>
<rect x="222.00" y="45.20" width="1.4" height="3.60" fill="#000"/>
<rect x="225.00" y="45.20" width="1.4" height="3.60" fill="#000"/>
<rect x="227.00" y="47.10" width="1.4" height="3.60" fill="#000"/>
<rect x="229.00" y="48.60" width="1.4" height="3.60" fill="#000"/>
<rect x="231.00" y="48.60" width="1.4" height="3.60" fill="#000"/>
<rect x="234.00" y="51.80" width="1.4" height="3.60" fill="#000"/>
<rect x="236.00" y="51.80" width="1.4" height="3.60" fill="#000"/>
<rect x="238.00" y="51.80" width="1.4" height="3.60" fill="#000"/>
<rect x="240.00" y="51.80" width="1.4" height="3.60" fill="#000"/>
<rect x="242.00" y="51.80" width="1.4" height="3.60" fill="#000"/>
<rect x="244.00" y="51.80" width="1.4" height="3.60" fill="#000"/>
<rect x="246.00" y="51.80" width="1.4" height="3.60" fill="#000"/>
<rect x="248.00" y="51.80" width="1.4" height="3.60" fill="#000"/>
<rect x="250.00" y="51.80" width="1.4" height="3.60" fill="#000"/>
<rect x="253.00" y="54.20" width="1.4" height="3.60" fill="#000"/>
<rect x="255.00" y="54.20" width="1.4" height="3.60" fill="#000"/>
<rect x="257.00" y="54.20" width="1.4" height="3.60" fill="#000"/>
<rect x="259.00" y="54.20" width="1.4" height="3.60" fill="#000"/>
<rect x="261.00" y="54.20" width="1.4" height="3.60" fill="#000"/>
<rect x="263.00" y="54.20" width="1.4" height="3.60" fill="#000"/>
<rect x="267.00" y="58.20" width="1.4" height="3.60" fill="#000"/>
<rect x="271.00" y="58.20" width="1.4" height="3.60" fill="#000"/>
<rect x="278.00" y="58.20" width="1.4" height="3.60" fill="#000"/>
<rect x="280.00" y="58.20" width="1.4" height="3.60" fill="#000"/>
<rect x="282.00" y="60.40" width="1.4" height="3.60" fill="#000"/>
<rect x="284.00" y="60.40" width="1.4" height="3.60" fill="#000"/>
<rect x="286.00" y="62.10" width="1.4" height="3.60" fill="#000"/>
<rect x="287.00" y="63.60" width="1.4" height="3.60" fill="#000"/>
<rect x="289.00" y="63.60" width="1.4" height="3.60" fill="#000"/>
<rect x="291.00" y="65.00" width="1.4" height="3.60" fill="#000"/>
<rect x="293.00" y="66.10" width="1.4" height="3.60" fill="#000"/>
<rect x="296.00" y="67.00" width="1.4" height="3.60" fill="#000"/>
<rect x="298.00" y="68.10" width="1.4" height="3.60" fill="#000"/>
<rect x="301.00" y="69.10" width="1.4" height="3.60" fill="#000"/>
<rect x="303.00" y="70.10" width="1.4" height="3.60" fill="#000"/>
<rect x="305.00" y="71.10" width="1.4" height="3.60" fill="#000"/>
<rect x="307.00" y="71.10" width="1.4" height="3.60" fill="#000"/>
<rect x="309.00" y="72.20" width="1.4" height="3.60" fill="#000"/>
<rect x="312.00" y="73.30" width="1.4" height="3.60" fill="#000"/>
<rect x="314.00" y="73.30" width="1.4" height="3.60" fill="#000"/>
<rect x="316.00" y="73.30" width="1.4" height="3.60" fill="#000"/>
<rect x="318.00" y="73.30" width="1.4" height="3.60" fill="#000"/>
<rect x="320.00" y="74.80" width="1.4" height="3.60" fill="#000"/>
<rect x="321.00" y="74.80" width="1.4" height="3.60" fill="#000"/>
<rect x="323.00" y="74.80" width="1.4" height="3.60" fill="#000"/>
<rect x="325.00" y="74.80" width="1.4" height="3.60" fill="#000"/>
<rect x="327.00" y="74.80" width="1.4" height="3.60" fill="#000"/>
<rect x="329.00" y="74.80" width="1.4" height="3.60" fill="#000"/>
<rect x="330.00" y="76.70" width="1.4" height="3.60" fill="#000"/>
<rect x="332.00" y="76.70" width="1.4" height="3.60" fill="#000"/>
<rect x="334.00" y="81.10" width="1.4" height="3.60" fill="#000"/>
<rect x="337.00" y="81.10" width="1.4" height="3.60" fill="#000"/>
<rect x="340.00" y="89.20" width="1.4" height="3.60" fill="#000"/>
<rect x="342.00" y="89.20" width="1.4" height="3.60" fill="#000"/>
<rect x="344.00" y="89.20" width="1.4" height="3.60" fill="#000"/>
<rect x="346.00" y="89.20" width="1.4" height="3.60" fill="#000"/>
<rect x="348.00" y="89.20" width="1.4" height="3.60" fill="#000"/>
<rect x="350.00" y="89.20" width="1.4" height="3.60" fill="#000"/>
<rect x="354.00" y="93.20" width="1.4" height="3.60" fill="#000"/>
<rect x="356.00" y="93.20" width="1.4" height="3.60" fill="#000"/>
<rect x="359.00" y="93.20" width="1.4" height="3.60" fill="#000"/>
<rect x="361.00" y="93.20" width="1.4" height="3.60" fill="#000"/>
<rect x="363.00" y="93.20" width="1.4" height="3.60" fill="#000"/>
<rect x="365.00" y="93.20" width="1.4" height="3.60" fill="#000"/>
<rect x="371.00" y="95.90" width="1.4" height="3.60" fill="#000"/>
<rect x="373.00" y="95.90" width="1.4" height="3.60" fill="#000"/>
<rect x="377.00" y="95.90" width="1.4" height="3.60" fill="#000"/>
<rect x="382.00" y="99.30" width="1.4" height="3.60" fill="#000"/>
<rect x="384.00" y="99.30" width="1.4" height="3.60" fill="#000"/>
<rect x="386.00" y="99.30" width="1.4" height="3.60" fill="#000"/>
<rect x="388.00" y="99.30" width="1.4" height="3.60" fill="#000"/>
<rect x="390.00" y="99.30" width="1.4" height="3.60" fill="#000"/>
<rect x="393.00" y="103.40" width="1.4" height="3.60" fill="#000"/>
<rect x="400.00" y="103.40" width="1.4" height="3.60" fill="#000"/>
<rect x="402.00" y="103.40" width="1.4" height="3.60" fill="#000"/>
<rect x="405.00" y="103.40" width="1.4" height="3.60" fill="#000"/>
<rect x="408.00" y="103.40" width="1.4" height="3.60" fill="#000"/>
<rect x="410.00" y="103.40" width="1.4" height="3.60" fill="#000"/>
<rect x="412.00" y="103.40" width="1.4" height="3.60" fill="#000"/>
<rect x="414.00" y="103.40" width="1.4" height="3.60" fill="#000"/>
<rect x="416.00" y="103.40" width="1.4" height="3.60" fill="#000"/>
<rect x="428.00" y="110.10" width="1.4" height="3.60" fill="#000"/>
<rect x="435.00" y="110.10" width="1.4" height="3.60" fill="#000"/>
<rect x="437.00" y="110.10" width="1.4" height="3.60" fill="#000"/>
<rect x="440.00" y="110.10" width="1.4" height="3.60" fill="#000"/>
<rect x="443.00" y="110.10" width="1.4" height="3.60" fill="#000"/>
<rect x="445.00" y="110.10" width="1.4" height="3.60" fill="#000"/>
<rect x="448.00" y="110.10" width="1.4" height="3.60" fill="#000"/>
<rect x="452.00" y="110.10" width="1.4" height="3.60" fill="#000"/>
<rect x="455.00" y="110.10" width="1.4" height="3.60" fill="#000"/>
<rect x="457.00" y="110.10" width="1.4" height="3.60" fill="#000"/>
<rect x="459.00" y="110.10" width="1.4" height="3.60" fill="#000"/>
<rect x="463.00" y="110.10" width="1.4" height="3.60" fill="#000"/>
<rect x="468.00" y="110.10" width="1.4" height="3.60" fill="#000"/>
<rect x="472.00" y="110.10" width="1.4" height="3.60" fill="#000"/>
<path d="M155.50,417.50 H165.00 V419.50 H171.00 V420.40 H185.00 V423.30 H188.00 V424.40 H190.00 V425.80 H227.00 V427.10 H255.00 V429.10 H268.00 V431.20 H272.00 V433.70 H301.00 V436.40 H314.00 V439.10 H332.00 V442.80 H381.00 V448.80 H474.00" fill="none" stroke="#c0001e" stroke-width="2.6"/>
<path d="M155.50,417.50 H169.60 V418.60 H173.00 V420.40 H175.00 V421.50 H185.00 V422.50 H192.00 V423.30 H198.00 V424.10 H205.00 V425.10 H217.00 V426.40 H220.00 V427.80 H227.00 V429.10 H229.00 V431.80 H231.00 V434.50 H233.00 V435.90 H240.00 V437.20 H253.00 V439.00 H270.00 V441.20 H271.50 V442.00 H280.00 V444.50 H283.00 V446.50 H287.00 V448.60 H290.00 V450.60 H293.00 V453.90 H297.00 V456.60 H300.00 V459.30 H304.00 V461.30 H310.00 V464.00 H327.00 V466.00 H331.00 V469.40 H333.00 V470.70 H335.00 V474.00 H337.00 V482.10 H340.00 V486.10 H341.00 V490.20 H354.00 V498.60 H369.00 V504.80 H394.00 V514.30 H419.00 V527.00 H463.00" fill="none" stroke="#003a70" stroke-width="2.6"/>
<rect x="158.00" y="413.10" width="1.4" height="3.60" fill="#000"/>
<rect x="160.00" y="413.10" width="1.4" height="3.60" fill="#000"/>
<rect x="162.00" y="413.10" width="1.4" height="3.60" fill="#000"/>
<rect x="164.00" y="413.10" width="1.4" height="3.60" fill="#000"/>
<rect x="166.00" y="413.10" width="1.4" height="3.60" fill="#000"/>
<rect x="171.00" y="414.20" width="1.4" height="3.60" fill="#000"/>
<rect x="172.00" y="416.00" width="1.4" height="3.60" fill="#000"/>
<rect x="175.00" y="417.10" width="1.4" height="3.60" fill="#000"/>
<rect x="177.00" y="417.10" width="1.4" height="3.60" fill="#000"/>
<rect x="179.00" y="417.10" width="1.4" height="3.60" fill="#000"/>
<rect x="181.00" y="417.10" width="1.4" height="3.60" fill="#000"/>
<rect x="183.00" y="417.10" width="1.4" height="3.60" fill="#000"/>
<rect x="185.00" y="418.10" width="1.4" height="3.60" fill="#000"/>
<rect x="187.00" y="418.10" width="1.4" height="3.60" fill="#000"/>
<rect x="189.00" y="418.10" width="1.4" height="3.60" fill="#000"/>
<rect x="192.00" y="418.90" width="1.4" height="3.60" fill="#000"/>
<rect x="194.00" y="418.90" width="1.4" height="3.60" fill="#000"/>
<rect x="196.00" y="418.90" width="1.4" height="3.60" fill="#000"/>
<rect x="198.00" y="419.70" width="1.4" height="3.60" fill="#000"/>
<rect x="200.00" y="419.70" width="1.4" height="3.60" fill="#000"/>
<rect x="202.00" y="419.70" width="1.4" height="3.60" fill="#000"/>
<rect x="204.00" y="419.70" width="1.4" height="3.60" fill="#000"/>
<rect x="206.00" y="420.70" width="1.4" height="3.60" fill="#000"/>
<rect x="214.00" y="421.40" width="1.4" height="3.60" fill="#000"/>
<rect x="216.00" y="421.40" width="1.4" height="3.60" fill="#000"/>
<rect x="218.00" y="421.40" width="1.4" height="3.60" fill="#000"/>
<rect x="220.00" y="421.40" width="1.4" height="3.60" fill="#000"/>
<rect x="223.00" y="421.40" width="1.4" height="3.60" fill="#000"/>
<rect x="225.00" y="421.40" width="1.4" height="3.60" fill="#000"/>
<rect x="227.00" y="422.70" width="1.4" height="3.60" fill="#000"/>
<rect x="230.00" y="422.70" width="1.4" height="3.60" fill="#000"/>
<rect x="235.00" y="422.70" width="1.4" height="3.60" fill="#000"/>
<rect x="237.00" y="422.70" width="1.4" height="3.60" fill="#000"/>
<rect x="239.00" y="422.70" width="1.4" height="3.60" fill="#000"/>
<rect x="241.00" y="422.70" width="1.4" height="3.60" fill="#000"/>
<rect x="243.00" y="422.70" width="1.4" height="3.60" fill="#000"/>
<rect x="245.00" y="422.70" width="1.4" height="3.60" fill="#000"/>
<rect x="249.00" y="422.70" width="1.4" height="3.60" fill="#000"/>
<rect x="255.00" y="424.70" width="1.4" height="3.60" fill="#000"/>
<rect x="257.00" y="424.70" width="1.4" height="3.60" fill="#000"/>
<rect x="259.00" y="424.70" width="1.4" height="3.60" fill="#000"/>
<rect x="261.00" y="424.70" width="1.4" height="3.60" fill="#000"/>
<rect x="263.00" y="424.70" width="1.4" height="3.60" fill="#000"/>
<rect x="268.00" y="426.80" width="1.4" height="3.60" fill="#000"/>
<rect x="270.00" y="426.80" width="1.4" height="3.60" fill="#000"/>
<rect x="279.00" y="429.30" width="1.4" height="3.60" fill="#000"/>
<rect x="282.00" y="429.30" width="1.4" height="3.60" fill="#000"/>
<rect x="284.00" y="429.30" width="1.4" height="3.60" fill="#000"/>
<rect x="288.00" y="429.30" width="1.4" height="3.60" fill="#000"/>
<rect x="293.00" y="429.30" width="1.4" height="3.60" fill="#000"/>
<rect x="298.00" y="429.30" width="1.4" height="3.60" fill="#000"/>
<rect x="300.00" y="429.30" width="1.4" height="3.60" fill="#000"/>
<rect x="302.00" y="432.00" width="1.4" height="3.60" fill="#000"/>
<rect x="305.00" y="432.00" width="1.4" height="3.60" fill="#000"/>
<rect x="307.00" y="432.00" width="1.4" height="3.60" fill="#000"/>
<rect x="309.00" y="432.00" width="1.4" height="3.60" fill="#000"/>
<rect x="312.00" y="432.00" width="1.4" height="3.60" fill="#000"/>
<rect x="314.00" y="434.70" width="1.4" height="3.60" fill="#000"/>
<rect x="318.00" y="434.70" width="1.4" height="3.60" fill="#000"/>
<rect x="321.00" y="434.70" width="1.4" height="3.60" fill="#000"/>
<rect x="323.00" y="434.70" width="1.4" height="3.60" fill="#000"/>
<rect x="326.00" y="434.70" width="1.4" height="3.60" fill="#000"/>
<rect x="328.00" y="434.70" width="1.4" height="3.60" fill="#000"/>
<rect x="332.00" y="438.40" width="1.4" height="3.60" fill="#000"/>
<rect x="334.00" y="438.40" width="1.4" height="3.60" fill="#000"/>
<rect x="340.00" y="438.40" width="1.4" height="3.60" fill="#000"/>
<rect x="343.00" y="438.40" width="1.4" height="3.60" fill="#000"/>
<rect x="346.00" y="438.40" width="1.4" height="3.60" fill="#000"/>
<rect x="352.00" y="438.40" width="1.4" height="3.60" fill="#000"/>
<rect x="354.00" y="438.40" width="1.4" height="3.60" fill="#000"/>
<rect x="356.00" y="438.40" width="1.4" height="3.60" fill="#000"/>
<rect x="358.00" y="438.40" width="1.4" height="3.60" fill="#000"/>
<rect x="360.00" y="438.40" width="1.4" height="3.60" fill="#000"/>
<rect x="362.00" y="438.40" width="1.4" height="3.60" fill="#000"/>
<rect x="365.00" y="438.40" width="1.4" height="3.60" fill="#000"/>
<rect x="372.00" y="438.40" width="1.4" height="3.60" fill="#000"/>
<rect x="375.00" y="438.40" width="1.4" height="3.60" fill="#000"/>
<rect x="377.00" y="438.40" width="1.4" height="3.60" fill="#000"/>
<rect x="384.00" y="444.40" width="1.4" height="3.60" fill="#000"/>
<rect x="392.00" y="444.40" width="1.4" height="3.60" fill="#000"/>
<rect x="394.00" y="444.40" width="1.4" height="3.60" fill="#000"/>
<rect x="401.00" y="444.40" width="1.4" height="3.60" fill="#000"/>
<rect x="404.00" y="444.40" width="1.4" height="3.60" fill="#000"/>
<rect x="406.00" y="444.40" width="1.4" height="3.60" fill="#000"/>
<rect x="408.00" y="444.40" width="1.4" height="3.60" fill="#000"/>
<rect x="411.00" y="444.40" width="1.4" height="3.60" fill="#000"/>
<rect x="416.00" y="444.40" width="1.4" height="3.60" fill="#000"/>
<rect x="428.00" y="444.40" width="1.4" height="3.60" fill="#000"/>
<rect x="434.00" y="444.40" width="1.4" height="3.60" fill="#000"/>
<rect x="439.00" y="444.40" width="1.4" height="3.60" fill="#000"/>
<rect x="441.00" y="444.40" width="1.4" height="3.60" fill="#000"/>
<rect x="447.00" y="444.40" width="1.4" height="3.60" fill="#000"/>
<rect x="452.00" y="444.40" width="1.4" height="3.60" fill="#000"/>
<rect x="457.00" y="444.40" width="1.4" height="3.60" fill="#000"/>
<rect x="461.00" y="444.40" width="1.4" height="3.60" fill="#000"/>
<rect x="468.00" y="444.40" width="1.4" height="3.60" fill="#000"/>
<rect x="469.00" y="444.40" width="1.4" height="3.60" fill="#000"/>
<rect x="472.00" y="444.40" width="1.4" height="3.60" fill="#000"/>
<rect x="228.00" y="427.40" width="1.4" height="3.60" fill="#000"/>
<rect x="230.00" y="430.10" width="1.4" height="3.60" fill="#000"/>
<rect x="233.00" y="431.50" width="1.4" height="3.60" fill="#000"/>
<rect x="239.00" y="431.50" width="1.4" height="3.60" fill="#000"/>
<rect x="241.00" y="432.80" width="1.4" height="3.60" fill="#000"/>
<rect x="246.00" y="432.80" width="1.4" height="3.60" fill="#000"/>
<rect x="248.00" y="432.80" width="1.4" height="3.60" fill="#000"/>
<rect x="250.00" y="432.80" width="1.4" height="3.60" fill="#000"/>
<rect x="255.00" y="434.60" width="1.4" height="3.60" fill="#000"/>
<rect x="257.00" y="434.60" width="1.4" height="3.60" fill="#000"/>
<rect x="259.00" y="434.60" width="1.4" height="3.60" fill="#000"/>
<rect x="261.00" y="434.60" width="1.4" height="3.60" fill="#000"/>
<rect x="263.00" y="434.60" width="1.4" height="3.60" fill="#000"/>
<rect x="268.00" y="434.60" width="1.4" height="3.60" fill="#000"/>
<rect x="270.00" y="436.80" width="1.4" height="3.60" fill="#000"/>
<rect x="279.00" y="440.10" width="1.4" height="3.60" fill="#000"/>
<rect x="281.00" y="440.10" width="1.4" height="3.60" fill="#000"/>
<rect x="285.00" y="442.10" width="1.4" height="3.60" fill="#000"/>
<rect x="287.00" y="444.20" width="1.4" height="3.60" fill="#000"/>
<rect x="294.00" y="449.50" width="1.4" height="3.60" fill="#000"/>
<rect x="296.00" y="449.50" width="1.4" height="3.60" fill="#000"/>
<rect x="298.00" y="452.20" width="1.4" height="3.60" fill="#000"/>
<rect x="301.00" y="454.90" width="1.4" height="3.60" fill="#000"/>
<rect x="303.00" y="454.90" width="1.4" height="3.60" fill="#000"/>
<rect x="309.00" y="456.90" width="1.4" height="3.60" fill="#000"/>
<rect x="312.00" y="459.60" width="1.4" height="3.60" fill="#000"/>
<rect x="314.00" y="459.60" width="1.4" height="3.60" fill="#000"/>
<rect x="316.00" y="459.60" width="1.4" height="3.60" fill="#000"/>
<rect x="321.00" y="459.60" width="1.4" height="3.60" fill="#000"/>
<rect x="327.00" y="461.60" width="1.4" height="3.60" fill="#000"/>
<rect x="329.00" y="461.60" width="1.4" height="3.60" fill="#000"/>
<rect x="331.00" y="465.00" width="1.4" height="3.60" fill="#000"/>
<rect x="334.00" y="466.30" width="1.4" height="3.60" fill="#000"/>
<rect x="345.00" y="485.80" width="1.4" height="3.60" fill="#000"/>
<rect x="348.00" y="485.80" width="1.4" height="3.60" fill="#000"/>
<rect x="350.00" y="485.80" width="1.4" height="3.60" fill="#000"/>
<rect x="352.00" y="485.80" width="1.4" height="3.60" fill="#000"/>
<rect x="356.00" y="494.20" width="1.4" height="3.60" fill="#000"/>
<rect x="360.00" y="494.20" width="1.4" height="3.60" fill="#000"/>
<rect x="364.00" y="494.20" width="1.4" height="3.60" fill="#000"/>
<rect x="366.00" y="494.20" width="1.4" height="3.60" fill="#000"/>
<rect x="381.00" y="500.40" width="1.4" height="3.60" fill="#000"/>
<rect x="383.00" y="500.40" width="1.4" height="3.60" fill="#000"/>
<rect x="385.00" y="500.40" width="1.4" height="3.60" fill="#000"/>
<rect x="387.00" y="500.40" width="1.4" height="3.60" fill="#000"/>
<rect x="389.00" y="500.40" width="1.4" height="3.60" fill="#000"/>
<rect x="408.00" y="509.90" width="1.4" height="3.60" fill="#000"/>
<rect x="413.00" y="509.90" width="1.4" height="3.60" fill="#000"/>
<rect x="436.00" y="522.60" width="1.4" height="3.60" fill="#000"/>
<rect x="444.00" y="522.60" width="1.4" height="3.60" fill="#000"/>
<rect x="452.00" y="522.60" width="1.4" height="3.60" fill="#000"/>
<rect x="455.00" y="522.60" width="1.4" height="3.60" fill="#000"/>
<rect x="457.00" y="522.60" width="1.4" height="3.60" fill="#000"/>
<rect x="460.00" y="522.60" width="1.4" height="3.60" fill="#000"/>
<rect x="462.00" y="522.60" width="1.4" height="3.60" fill="#000"/>
<path d="M156.20,800.30 H332.70 V815.60 H496.70" fill="none" stroke="#c0001e" stroke-width="2.6"/>
<path d="M156.20,800.30 H186.20 V808.80 H357.80 V826.00 H457.70" fill="none" stroke="#003a70" stroke-width="2.6"/>
<path d="M156.20,800.30 H174.60 V805.50 H182.70 V809.70 H211.20 V813.70 H284.20 V824.20 H473.60" fill="none" stroke="#22a838" stroke-width="2.6"/>
<rect x="235.00" y="795.90" width="1.4" height="3.60" fill="#000"/>
<rect x="266.00" y="795.90" width="1.4" height="3.60" fill="#000"/>
<rect x="278.00" y="795.90" width="1.4" height="3.60" fill="#000"/>
<rect x="288.00" y="795.90" width="1.4" height="3.60" fill="#000"/>
<rect x="321.00" y="795.90" width="1.4" height="3.60" fill="#000"/>
<rect x="334.00" y="811.20" width="1.4" height="3.60" fill="#000"/>
<rect x="346.00" y="811.20" width="1.4" height="3.60" fill="#000"/>
<rect x="390.00" y="811.20" width="1.4" height="3.60" fill="#000"/>
<rect x="409.00" y="811.20" width="1.4" height="3.60" fill="#000"/>
<rect x="414.00" y="811.20" width="1.4" height="3.60" fill="#000"/>
<rect x="420.00" y="811.20" width="1.4" height="3.60" fill="#000"/>
<rect x="444.00" y="811.20" width="1.4" height="3.60" fill="#000"/>
<rect x="452.00" y="811.20" width="1.4" height="3.60" fill="#000"/>
<rect x="454.00" y="811.20" width="1.4" height="3.60" fill="#000"/>
<rect x="462.00" y="811.20" width="1.4" height="3.60" fill="#000"/>
<rect x="496.00" y="811.20" width="1.4" height="3.60" fill="#000"/>
<rect x="187.00" y="804.40" width="1.4" height="3.60" fill="#000"/>
<rect x="189.00" y="804.40" width="1.4" height="3.60" fill="#000"/>
<rect x="192.00" y="804.40" width="1.4" height="3.60" fill="#000"/>
<rect x="202.00" y="804.40" width="1.4" height="3.60" fill="#000"/>
<rect x="207.00" y="804.40" width="1.4" height="3.60" fill="#000"/>
<rect x="222.00" y="804.40" width="1.4" height="3.60" fill="#000"/>
<rect x="223.00" y="804.40" width="1.4" height="3.60" fill="#000"/>
<rect x="258.00" y="804.40" width="1.4" height="3.60" fill="#000"/>
<rect x="275.00" y="804.40" width="1.4" height="3.60" fill="#000"/>
<rect x="288.00" y="804.40" width="1.4" height="3.60" fill="#000"/>
<rect x="300.00" y="804.40" width="1.4" height="3.60" fill="#000"/>
<rect x="312.00" y="804.40" width="1.4" height="3.60" fill="#000"/>
<rect x="325.00" y="804.40" width="1.4" height="3.60" fill="#000"/>
<rect x="456.00" y="821.60" width="1.4" height="3.60" fill="#000"/>
<rect x="162.00" y="795.90" width="1.4" height="3.60" fill="#000"/>
<rect x="165.00" y="795.90" width="1.4" height="3.60" fill="#000"/>
<rect x="167.00" y="795.90" width="1.4" height="3.60" fill="#000"/>
<rect x="172.00" y="795.90" width="1.4" height="3.60" fill="#000"/>
<rect x="174.00" y="795.90" width="1.4" height="3.60" fill="#000"/>
<rect x="213.00" y="809.30" width="1.4" height="3.60" fill="#000"/>
<rect x="218.00" y="809.30" width="1.4" height="3.60" fill="#000"/>
<rect x="223.00" y="809.30" width="1.4" height="3.60" fill="#000"/>
<rect x="232.00" y="809.30" width="1.4" height="3.60" fill="#000"/>
<rect x="267.00" y="809.30" width="1.4" height="3.60" fill="#000"/>
<rect x="271.00" y="809.30" width="1.4" height="3.60" fill="#000"/>
<rect x="285.00" y="819.80" width="1.4" height="3.60" fill="#000"/>
<rect x="286.00" y="819.80" width="1.4" height="3.60" fill="#000"/>
<rect x="302.00" y="819.80" width="1.4" height="3.60" fill="#000"/>
<rect x="326.00" y="819.80" width="1.4" height="3.60" fill="#000"/>
<rect x="331.00" y="819.80" width="1.4" height="3.60" fill="#000"/>
<rect x="331.00" y="819.80" width="1.4" height="3.60" fill="#000"/>
<rect x="344.00" y="819.80" width="1.4" height="3.60" fill="#000"/>
<rect x="357.00" y="819.80" width="1.4" height="3.60" fill="#000"/>
<rect x="360.00" y="819.80" width="1.4" height="3.60" fill="#000"/>
<rect x="382.00" y="819.80" width="1.4" height="3.60" fill="#000"/>
<rect x="386.00" y="819.80" width="1.4" height="3.60" fill="#000"/>
<rect x="396.00" y="819.80" width="1.4" height="3.60" fill="#000"/>
<rect x="408.00" y="819.80" width="1.4" height="3.60" fill="#000"/>
<rect x="415.00" y="819.80" width="1.4" height="3.60" fill="#000"/>
<rect x="416.00" y="819.80" width="1.4" height="3.60" fill="#000"/>
<rect x="418.00" y="819.80" width="1.4" height="3.60" fill="#000"/>
<rect x="419.00" y="819.80" width="1.4" height="3.60" fill="#000"/>
<rect x="427.00" y="819.80" width="1.4" height="3.60" fill="#000"/>
<rect x="429.00" y="819.80" width="1.4" height="3.60" fill="#000"/>
<rect x="431.00" y="819.80" width="1.4" height="3.60" fill="#000"/>
<rect x="433.00" y="819.80" width="1.4" height="3.60" fill="#000"/>
<rect x="434.00" y="819.80" width="1.4" height="3.60" fill="#000"/>
<rect x="439.00" y="819.80" width="1.4" height="3.60" fill="#000"/>
<rect x="443.00" y="819.80" width="1.4" height="3.60" fill="#000"/>
<rect x="450.00" y="819.80" width="1.4" height="3.60" fill="#000"/>
<rect x="458.00" y="819.80" width="1.4" height="3.60" fill="#000"/>
<rect x="465.00" y="819.80" width="1.4" height="3.60" fill="#000"/>
<rect x="472.00" y="819.80" width="1.4" height="3.60" fill="#000"/>
<rect x="1" y="1" width="518" height="1151" fill="none" stroke="#000" stroke-width="2"/>
</svg>
</body></html>
